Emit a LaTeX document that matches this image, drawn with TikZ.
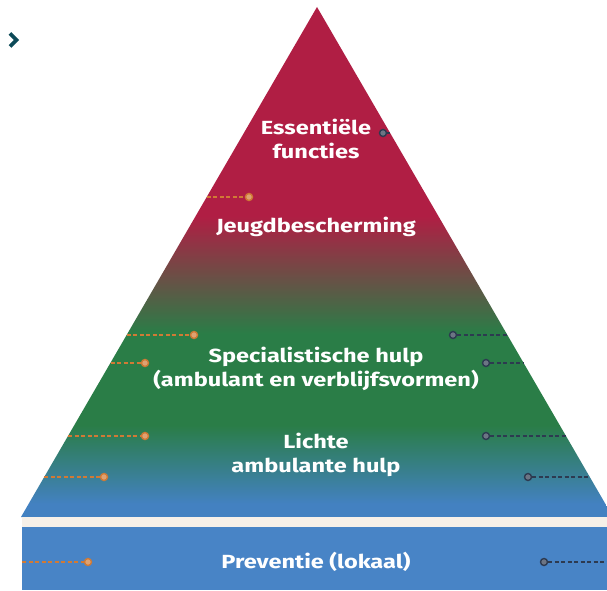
\documentclass[tikz,border=0pt]{standalone}
\usepackage{fontspec}
\setmainfont{Fira Sans}
\newfontfamily\lblfont[FakeStretch=1.24]{Fira Sans}
\usetikzlibrary{calc}
\definecolor{pred}{RGB}{176,30,68}
\definecolor{pgreen}{RGB}{42,125,71}
\definecolor{pblue}{RGB}{67,129,193}
\definecolor{rectblue}{RGB}{72,132,198}
\definecolor{bandcream}{RGB}{246,240,232}
\definecolor{lorange}{RGB}{208,122,53}
\definecolor{rnavy}{RGB}{45,58,80}
\definecolor{chev}{RGB}{12,74,88}
\pgfdeclareverticalshading{pyr}{100bp}{%
  color(0bp)=(pblue);
  color(26.3bp)=(pblue);
  color(34bp)=(pgreen);
  color(43bp)=(pgreen);
  color(54.5bp)=(pred);
  color(100bp)=(pred)}
\tikzset{
  lbl/.style={text=white,font=\lblfont\fontsize{19}{24}\selectfont\bfseries,align=center,inner sep=0pt},
  ldash/.style={draw=lorange,line width=1.3pt,dash pattern=on 4pt off 2.5pt},
  rdash/.style={draw=rnavy,line width=1.3pt,dash pattern=on 4pt off 2.5pt},
  ldot/.style={circle,draw=lorange,fill=lorange!70!white,line width=1.4pt,minimum size=7pt,inner sep=0pt},
  rdot/.style={circle,draw=rnavy,fill=rnavy!70!white,line width=1.4pt,minimum size=7pt,inner sep=0pt}
}
\begin{document}
\begin{tikzpicture}[x=1pt,y=1pt]
\useasboundingbox (0,0) rectangle (607,590);
\clip (0,0) rectangle (607,590);
\fill[white] (0,0) rectangle (607,590);
% pyramid
\coordinate (apex) at (317,583);
\coordinate (bl) at (21,73);
\coordinate (br) at (613,73);
\shade[shading=pyr] (apex) -- (bl) -- (br) -- cycle;
% band and base
\fill[bandcream] (22,63) rectangle (607,73.5);
\draw[black!12,line width=0.6pt] (22,63) -- (607,63);
\fill[rectblue] (22,0) rectangle (607,63);
% chevron
\draw[chev,line width=3.6pt,line join=miter] (10,556.5) -- (16.5,550) -- (10,543.5);
% labels
\node[lbl] (ess) at (316,451) {Essentiële\\functies};
\node[lbl] (jeugd) at (316,363) {Jeugdbescherming};
\node[lbl] (spec) at (316,221) {Specialistische hulp\\(ambulant en verblijfsvormen)};
\node[lbl] (licht) at (316,135) {Lichte\\ambulante hulp};
\node[lbl] (prev) at (316,28) {Preventie (lokaal)};
% left connectors
\coordinate (eL1) at (206.8,393);
\coordinate (eL2) at (126.8,255);
\coordinate (eL3) at (110.5,227);
\coordinate (eL4) at (68.2,154);
\coordinate (eL5) at (44.4,113);
\coordinate (eL6) at (22,28);
\node[ldot] (dL1) at (249,393) {};
\node[ldot] (dL2) at (194,255) {};
\node[ldot] (dL3) at (145,227) {};
\node[ldot] (dL4) at (145,154) {};
\node[ldot] (dL5) at (104,113) {};
\node[ldot] (dL6) at (88,28) {};
\foreach \i in {1,...,6} \draw[ldash] (eL\i) -- (dL\i);
% right connectors
\coordinate (eR1) at (390,457);
\coordinate (eR2) at (507.2,255);
\coordinate (eR3) at (523.5,227);
\coordinate (eR4) at (565.8,154);
\coordinate (eR5) at (589.6,113);
\coordinate (eR6) at (607,28);
\node[rdot] (dR1) at (383,457) {};
\node[rdot] (dR2) at (453,255) {};
\node[rdot] (dR3) at (486,227) {};
\node[rdot] (dR4) at (486,154) {};
\node[rdot] (dR5) at (528,113) {};
\node[rdot] (dR6) at (544,28) {};
\foreach \i in {1,...,6} \draw[rdash] (dR\i) -- (eR\i);
\end{tikzpicture}
\end{document}
